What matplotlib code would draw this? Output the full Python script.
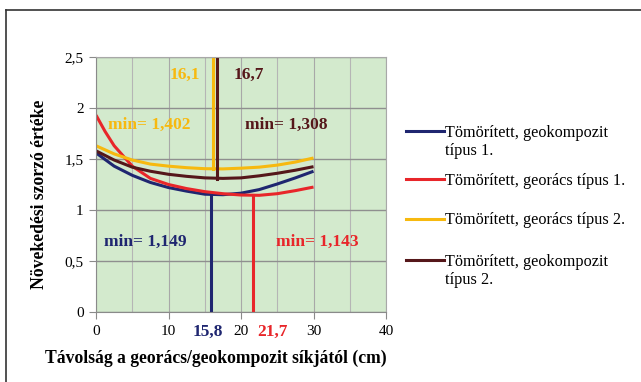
import matplotlib.pyplot as plt
from matplotlib.lines import Line2D
from matplotlib.ticker import MultipleLocator

plt.rcParams['font.family'] = ['Liberation Serif', 'DejaVu Serif']

# distance from the reinforcement plane (cm)
tav = [0, 1.25, 2.5, 5, 7.5, 10, 12.5, 15, 17.5, 20, 22.5, 25, 27.5, 30]

geokomp_1 = [1.56, 1.495, 1.43, 1.34, 1.27, 1.22, 1.185, 1.155, 1.15, 1.165, 1.2, 1.255, 1.315, 1.38]
georacs_1 = [1.93, 1.77, 1.63, 1.43, 1.31, 1.25, 1.21, 1.18, 1.16, 1.147, 1.144, 1.16, 1.19, 1.225]
georacs_2 = [1.63, 1.59, 1.55, 1.49, 1.45, 1.43, 1.415, 1.405, 1.403, 1.41, 1.42, 1.44, 1.47, 1.51]
geokomp_2 = [1.58, 1.535, 1.49, 1.42, 1.38, 1.35, 1.33, 1.315, 1.31, 1.315, 1.335, 1.36, 1.39, 1.425]

# location and value of each minimum
min_x = [15.8, 21.7, 16.1, 16.7]
min_y = [1.149, 1.143, 1.402, 1.308]

nevek = ['Tömörített, geokompozit\ntípus 1.', 'Tömörített, georács típus 1.',
         'Tömörített, georács típus 2.', 'Tömörített, geokompozit\ntípus 2.']
szinek = ['#1f2670', '#e8262a', '#f7b90f', '#55171a']


def hu(v, fmt):
    return format(v, fmt).replace('.', ',')


fig = plt.figure(figsize=(6.41, 3.82), dpi=100)
ax = fig.add_axes([0.1498, 0.1832, 0.4524, 0.6676])
ax.set_facecolor('#d3eacd')

ax.xaxis.set_minor_locator(MultipleLocator(5))
ax.grid(True, which='minor', axis='x', color='#b5b5b5', lw=0.8)
ax.grid(True, which='major', axis='x', color='#a8a8a8', lw=0.8)
ax.grid(True, which='major', axis='y', color='#8f8f8f', lw=1.0)
ax.set_axisbelow(True)

for ys, c in zip([geokomp_1, georacs_1, georacs_2, geokomp_2], szinek):
    ax.plot(tav, ys, color=c, lw=2.2, solid_capstyle='butt')

# vertical markers at the minima
ax.plot([min_x[0], min_x[0]], [0, min_y[0]], color=szinek[0], lw=2.2)
ax.plot([min_x[1], min_x[1]], [0, min_y[1]], color=szinek[1], lw=2.2)
ax.plot([min_x[2], min_x[2]], [min_y[2], 2.5], color=szinek[2], lw=2.2)
ax.plot([min_x[3], min_x[3]], [min_y[3], 2.5], color=szinek[3], lw=2.2)

bold = dict(fontsize=12.5, fontweight='bold', ha='center', va='center')
ax.text(7.4, 1.83, 'min= ' + hu(min_y[2], '.3f'), color=szinek[2], **bold)
ax.text(26.3, 1.83, 'min= ' + hu(min_y[3], '.3f'), color=szinek[3], **bold)
ax.text(6.8, 0.69, 'min= ' + hu(min_y[0], '.3f'), color=szinek[0], **bold)
ax.text(30.5, 0.69, 'min= ' + hu(min_y[1], '.3f'), color=szinek[1], **bold)
ax.text(12.3, 2.32, hu(min_x[2], '.1f'), color=szinek[2], **bold)
ax.text(21.0, 2.32, hu(min_x[3], '.1f'), color=szinek[3], **bold)
ax.text(15.4, -0.19, hu(min_x[0], '.1f'), color=szinek[0], clip_on=False, **bold)
ax.text(24.4, -0.19, hu(min_x[1], '.1f'), color=szinek[1], clip_on=False, **bold)

ax.set_xlim(0, 40)
ax.set_ylim(0, 2.5)
ax.set_xticks([0, 10, 20, 30, 40])
ax.set_yticks([0, 0.5, 1, 1.5, 2, 2.5])
ax.set_yticklabels(['0', '0,5', '1', '1,5', '2', '2,5'])
ax.tick_params(axis='both', which='major', labelsize=11, color='#8a8a8a', length=5, pad=4)
ax.tick_params(axis='x', which='minor', length=0)
for s in ['left', 'bottom']:
    ax.spines[s].set_color('#8a8a8a')
for s in ['top', 'right']:
    ax.spines[s].set_color('#a8a8a8')

ax.set_xlabel('Távolság a georács/geokompozit síkjától (cm)', fontsize=12.7, fontweight='bold')
ax.xaxis.set_label_coords(0.414, -0.148)
ax.set_ylabel('Növekedési szorzó értéke', fontsize=12.7, fontweight='bold')
ax.yaxis.set_label_coords(-0.165, 0.46)

# legend blocks on the right, one per series
leg_y = [0.674, 0.547, 0.444, 0.335]
for i, (c, n) in enumerate(zip(szinek, nevek)):
    sorok = n.split('\n')
    handles = [Line2D([], [], color=c, lw=2.2)] + [Line2D([], [], color='none')] * (len(sorok) - 1)
    leg = ax.legend(handles, sorok, loc='upper left', bbox_to_anchor=(0.634, leg_y[i]),
                    bbox_transform=fig.transFigure, frameon=False, fontsize=11.7,
                    handlelength=2.3, handletextpad=0.1, labelspacing=0.15,
                    borderpad=0, borderaxespad=0)
    if i < len(szinek) - 1:
        ax.add_artist(leg)

# outer frame: top and left edges
fig.add_artist(Line2D([0.0095, 1.0], [0.975, 0.975], color='#333333', lw=1.2))
fig.add_artist(Line2D([0.0095, 0.0095], [0.0, 0.975], color='#333333', lw=1.2))

fig.savefig('out.png', dpi=100)
